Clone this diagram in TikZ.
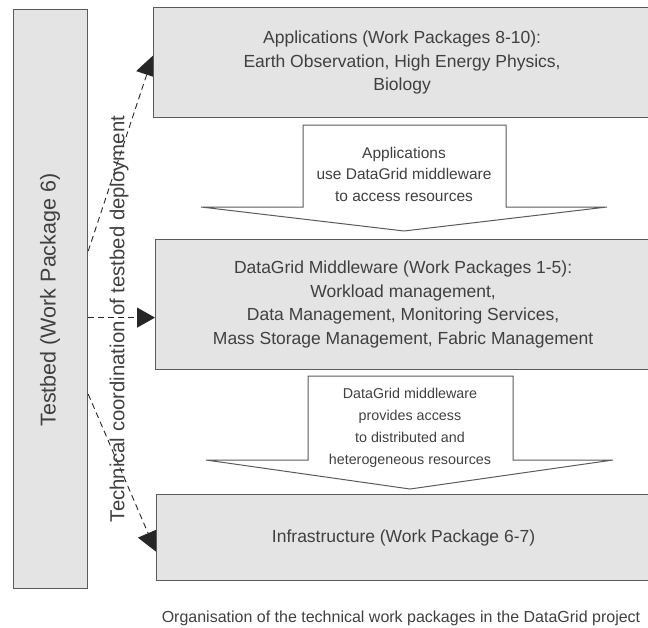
\documentclass[tikz,border=0pt]{standalone}
\usepackage{fontspec}
\setmainfont{Liberation Sans}
\usetikzlibrary{arrows.meta,backgrounds}
\definecolor{boxfill}{HTML}{E4E4E4}
\definecolor{edge}{HTML}{5A5A5A}
\definecolor{ink}{HTML}{404040}
\begin{document}
\begin{tikzpicture}[x=1pt,y=-1pt,
  pkg/.style={draw=edge,line width=1.2pt,fill=boxfill,inner sep=0pt,anchor=north west,
              text=ink,align=center,font=\fontsize{17.5}{23.5}\selectfont},
  blk/.style={draw=edge,line width=1pt,fill=white,line join=miter},
  lbl/.style={text=ink,align=center,inner sep=0pt},
  dasharrow/.style={draw=black!85,line width=0.9pt,dash pattern=on 6pt off 4pt,
                    -{Triangle[length=20pt,width=22pt]}},
]
\useasboundingbox (0,0) rectangle (648,627);

% packages
\node[pkg,minimum width=74pt,minimum height=579pt] (tb) at (13,9) {};
\node[pkg,minimum width=497pt,minimum height=110pt] (apps) at (153,7)
  {Applications (Work Packages 8-10):\\Earth Observation, High Energy Physics,\\Biology};
\node[pkg,minimum width=495pt,minimum height=130pt] (mw) at (155,239)
  {DataGrid Middleware (Work Packages 1-5):\\Workload management,\\Data Management, Monitoring Services,\\Mass Storage Management, Fabric Management};
\node[pkg,minimum width=494pt,minimum height=86pt] (infra) at (156,494)
  {Infrastructure (Work Package 6-7)};

\node[text=ink,rotate=90,inner sep=0pt,font=\fontsize{21.5}{26}\selectfont] (tbt) at (50,300)
  {Testbed (Work Package 6)};
\node[text=ink,rotate=90,inner sep=0pt,font=\fontsize{20.3}{24}\selectfont] (tech) at (119,319)
  {Technical coordination of testbed deployment};

% block arrows
\draw[blk] (303,125) -- (506,125) -- (506,207) -- (607,207) -- (404,231)
  -- (201,207) -- (303,207) -- cycle;
\node[lbl,font=\fontsize{15.5}{21.5}\selectfont] (a1) at (404,174)
  {Applications\\use DataGrid middleware\\to access resources};
\draw[blk] (308,376) -- (513,376) -- (513,460) -- (613,460) -- (410,489)
  -- (206,460) -- (308,460) -- cycle;
\node[lbl,font=\fontsize{14.3}{22}\selectfont] (a2) at (410,428)
  {DataGrid middleware\\provides access\\to distributed and\\heterogeneous resources};

% dashed connectors (behind boxes)
\begin{scope}[on background layer]
\draw[dasharrow] ([yshift=48pt]tb.east) -- ([shift={(0pt,7pt)}]apps.west);
\draw[dasharrow,-{Triangle[length=18pt,width=20pt]}] ([yshift=-18.5pt]tb.east) -- ([yshift=-13pt]mw.west);
\draw[dasharrow] ([yshift=-95pt]tb.east) -- ([shift={(0pt,-14pt)}]infra.west);
\end{scope}

% caption
\node[text=ink,inner sep=0pt,font=\fontsize{16}{19}\selectfont] (cap) at (401,618)
  {Organisation of the technical work packages in the DataGrid project};
\end{tikzpicture}
\end{document}
